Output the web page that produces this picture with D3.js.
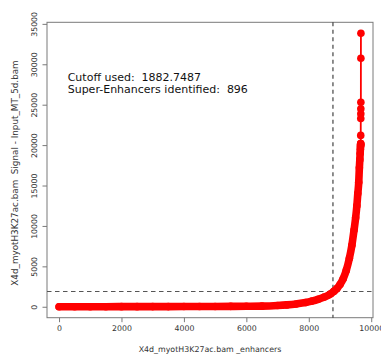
<!DOCTYPE html>
<html>
<head>
<meta charset="utf-8">
<script src="https://cdn.jsdelivr.net/npm/d3@7"></script>
<style>
  html, body { margin: 0; padding: 0; background: #fff; }
  text { font-family: "DejaVu Sans", sans-serif; white-space: pre; }
</style>
</head>
<body>
<div id="chart"></div>
<script>
// Enhancer rank (x) vs. stitched signal (y)
const ranks = [1, 500, 1000, 1500, 2000, 2500, 3000, 3500, 4000, 4500, 5000, 5500,
  6000, 6500, 7000, 7300, 7600, 7900, 8100, 8300, 8500, 8700, 8800, 8900, 9000,
  9100, 9200, 9300, 9380, 9450, 9500, 9540, 9570, 9600, 9620, 9635, 9645, 9652,
  9656, 9659, 9661, 9662, 9663, 9664, 9665, 9666, 9667, 9668, 9669, 9670];
const signals = [0, 2, 5, 8, 11, 14, 18, 22, 27, 33, 40, 48,
  58, 75, 150, 230, 350, 520, 700, 920, 1200, 1600, 1900, 2250, 2750,
  3450, 4500, 6000, 7600, 9500, 11000, 12500, 14000, 15400, 17200, 18200, 19000, 19500,
  19800, 19950, 20050, 20100, 20200, 21200, 23300, 23880, 24500, 25310, 30750, 33840];

const cutoff = 1882.7487;
const nSuper = 896;
const xLabel = "X4d_myotH3K27ac.bam _enhancers";
const yLabel = "X4d_myotH3K27ac.bam  Signal - Input_MT_5d.bam";
const xTicks = [0, 2000, 4000, 6000, 8000, 10000];
const yTicks = [0, 5000, 10000, 15000, 20000, 25000, 30000, 35000];
const notes = ["Cutoff used:  " + cutoff, "Super-Enhancers identified:  " + nSuper];

const data = ranks.map((r, i) => ({ rank: r, signal: signals[i] }));

const W = 381, H = 356;
const box = { left: 47, right: 373, top: 22.3, bottom: 317.7 };

const svg = d3.select("#chart").append("svg")
  .attr("width", W).attr("height", H);

svg.append("rect").attr("width", W).attr("height", H).attr("fill", "#fff");

// R style 4% padding on both axes
function padded(ext) {
  const p = (ext[1] - ext[0]) * 0.04;
  return [ext[0] - p, ext[1] + p];
}

const x = d3.scaleLinear()
  .domain(padded(d3.extent(ranks)))
  .range([box.left, box.right]);
const y = d3.scaleLinear()
  .domain(padded(d3.extent(signals)))
  .range([box.bottom, box.top]);

const AXIS = "#7a7a7a";
const TXT = "#333";

// ── Frame ────────────────────────────────────────────────
svg.append("rect")
  .attr("x", box.left).attr("y", box.top)
  .attr("width", box.right - box.left).attr("height", box.bottom - box.top)
  .attr("fill", "none").attr("stroke", AXIS).attr("stroke-width", 1);

// ── X axis ───────────────────────────────────────────────
const gx = svg.append("g")
  .attr("transform", `translate(0,${box.bottom})`)
  .call(d3.axisBottom(x).tickValues(xTicks).tickSize(4.5).tickPadding(3).tickFormat(d3.format("d")))
  .call(ax => ax.select(".domain").remove());
gx.selectAll("line").attr("stroke", AXIS);
gx.selectAll("text").attr("fill", TXT).attr("font-size", 7.8)
  .attr("font-family", "DejaVu Sans, sans-serif");

// ── Y axis (labels rotated like R's las = 0) ─────────────
const gy = svg.append("g")
  .attr("transform", `translate(${box.left},0)`)
  .call(d3.axisLeft(y).tickValues(yTicks).tickSize(4.5).tickFormat(d3.format("d")))
  .call(ax => ax.select(".domain").remove());
gy.selectAll("line").attr("stroke", AXIS);
gy.selectAll("text")
  .attr("fill", TXT).attr("font-size", 7.8)
  .attr("font-family", "DejaVu Sans, sans-serif")
  .attr("x", null).attr("dy", null)
  .attr("text-anchor", "middle")
  .attr("transform", "translate(-10.5,0) rotate(-90)");

// ── Axis titles ──────────────────────────────────────────
svg.append("text")
  .attr("x", (box.left + box.right) / 2).attr("y", 352)
  .attr("text-anchor", "middle").attr("font-size", 7.9).attr("fill", TXT)
  .text(xLabel);

svg.append("text")
  .attr("transform", `translate(17.5,${(box.top + box.bottom) / 2 + 3}) rotate(-90)`)
  .attr("text-anchor", "middle").attr("font-size", 8.8).attr("fill", TXT)
  .text(yLabel);

// ── Cutoff lines ─────────────────────────────────────────
svg.append("line")
  .attr("x1", box.left).attr("x2", box.right)
  .attr("y1", y(cutoff)).attr("y2", y(cutoff))
  .attr("stroke", "#555").attr("stroke-width", 1.1).attr("stroke-dasharray", "4.5,3.5");

const cutRank = d3.max(ranks) - nSuper;
svg.append("line")
  .attr("x1", x(cutRank)).attr("x2", x(cutRank))
  .attr("y1", box.top).attr("y2", box.bottom)
  .attr("stroke", "#333").attr("stroke-width", 1.1).attr("stroke-dasharray", "4,3.5");

// ── Curve: dense band, connecting line and points ────────
const RED = "#ff0000";
const R = 3.8;

const dense = data.filter(d => d.signal <= 20200);
svg.append("path")
  .datum(dense)
  .attr("fill", "none").attr("stroke", RED)
  .attr("stroke-width", R * 2)
  .attr("stroke-linecap", "round").attr("stroke-linejoin", "round")
  .attr("d", d3.line().x(d => x(d.rank)).y(d => y(d.signal)).curve(d3.curveMonotoneX));

svg.append("path")
  .datum(data)
  .attr("fill", "none").attr("stroke", RED).attr("stroke-width", 1.8)
  .attr("d", d3.line().x(d => x(d.rank)).y(d => y(d.signal)));

svg.append("g").selectAll("circle")
  .data(data).join("circle")
  .attr("cx", d => x(d.rank)).attr("cy", d => y(d.signal))
  .attr("r", R).attr("fill", RED);

// ── Annotation ───────────────────────────────────────────
svg.append("text")
  .attr("x", 67.7).attr("y", 80.7)
  .attr("font-size", 11).attr("fill", "#111")
  .selectAll("tspan").data(notes).join("tspan")
  .attr("x", 67.7).attr("dy", (d, i) => i === 0 ? 0 : 12.6)
  .text(d => d);
</script>
</body>
</html>
